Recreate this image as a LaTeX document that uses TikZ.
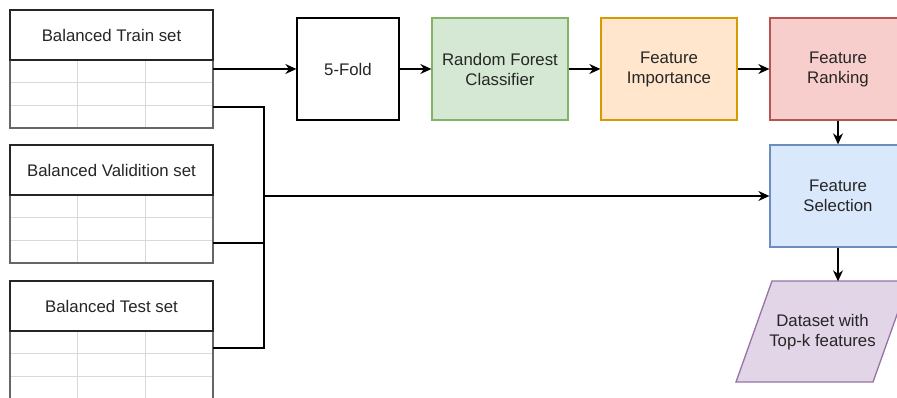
\documentclass[tikz,border=0pt]{standalone}
\usepackage{fontspec}
\setmainfont{Liberation Sans}
\usetikzlibrary{arrows.meta}

\definecolor{txtc}{HTML}{262626}
\definecolor{rfg}{HTML}{D5E8D4}\definecolor{rfd}{HTML}{82B366}
\definecolor{impg}{HTML}{FFE6CC}\definecolor{impd}{HTML}{D79B00}
\definecolor{rnkg}{HTML}{F8CECC}\definecolor{rnkd}{HTML}{B85450}
\definecolor{selg}{HTML}{DAE8FC}\definecolor{seld}{HTML}{6C8EBF}
\definecolor{datg}{HTML}{E1D5E7}\definecolor{datd}{HTML}{9673A6}

\tikzset{
  stepbox/.style={draw, line width=1.3pt, minimum width=136pt, minimum height=102pt,
    align=center, inner sep=0pt, text=txtc},
  hdr/.style={draw=black!85, line width=1.3pt, minimum width=203pt, minimum height=50pt,
    inner sep=0pt, text=txtc},
  gridline/.style={draw=black!15, line width=1pt},
  conn/.style={line width=1.4pt, black},
}

\begin{document}
\begin{tikzpicture}[x=1pt, y=-1pt, >={Stealth[length=11pt,width=10pt]},
  font=\fontsize{16.8}{20}\selectfont]
\clip (0,0) rectangle (897,398);
\fill[white] (0,0) rectangle (897,398);

% the three data tables
\foreach \tname/\ty/\ttext in {train/10/Balanced Train set,valid/145/Balanced Validition set,test/281/Balanced Test set}
{
    \foreach \r in {1,2}
        \draw[gridline] (10,\ty+50+\r*22.7) -- (213,\ty+50+\r*22.7);
    \foreach \c in {77.7,145.3}
        \draw[gridline] (\c,\ty+50) -- (\c,\ty+118);
    \draw[draw=black!60, line width=1.2pt] (10,\ty+50) rectangle (213,\ty+118);
    \node[hdr] (\tname) at (111.5,\ty+25) {\ttext};
}

% pipeline boxes
\node[stepbox, minimum width=102pt] (fold) at (348,69) {5-Fold};
\node[stepbox, draw=rfd, fill=rfg] (rf) at (500,69) {Random Forest\\Classifier};
\node[stepbox, draw=impd, fill=impg] (imp) at (669,69) {Feature\\Importance};
\node[stepbox, draw=rnkd, fill=rnkg] (rank) at (838,69) {Feature\\Ranking};
\node[stepbox, draw=seld, fill=selg] (sel) at (838,196) {Feature\\Selection};

% output parallelogram
\draw[draw=datd, fill=datg, line width=1.3pt] (736,382) -- (873,382) -- (909,281) -- (772,281) -- cycle;
\node[minimum width=137pt, minimum height=101pt, align=center, inner sep=0pt, text=txtc]
  (data) at (822.5,332) {Dataset with\\Top-k features};

% connector ends on the tables
\coordinate (train-a) at (213,69);
\coordinate (train-b) at (213,107);
\coordinate (valid-b) at (213,243);
\coordinate (test-b) at (213,348);
\coordinate (bus) at (264,196);

\draw[conn,->] (train-a) -- (fold);
\draw[conn,->] (fold) -- (rf);
\draw[conn,->] (rf) -- (imp);
\draw[conn,->] (imp) -- (rank);
\draw[conn,->] (rank) -- (sel);
\draw[conn,->] (sel.south) -- (sel.south |- data.north);

\draw[conn] (train-b) -| (bus);
\draw[conn] (valid-b) -| (bus);
\draw[conn] (test-b) -| (bus);
\draw[conn,->] (bus) -- (sel);
\end{tikzpicture}
\end{document}
